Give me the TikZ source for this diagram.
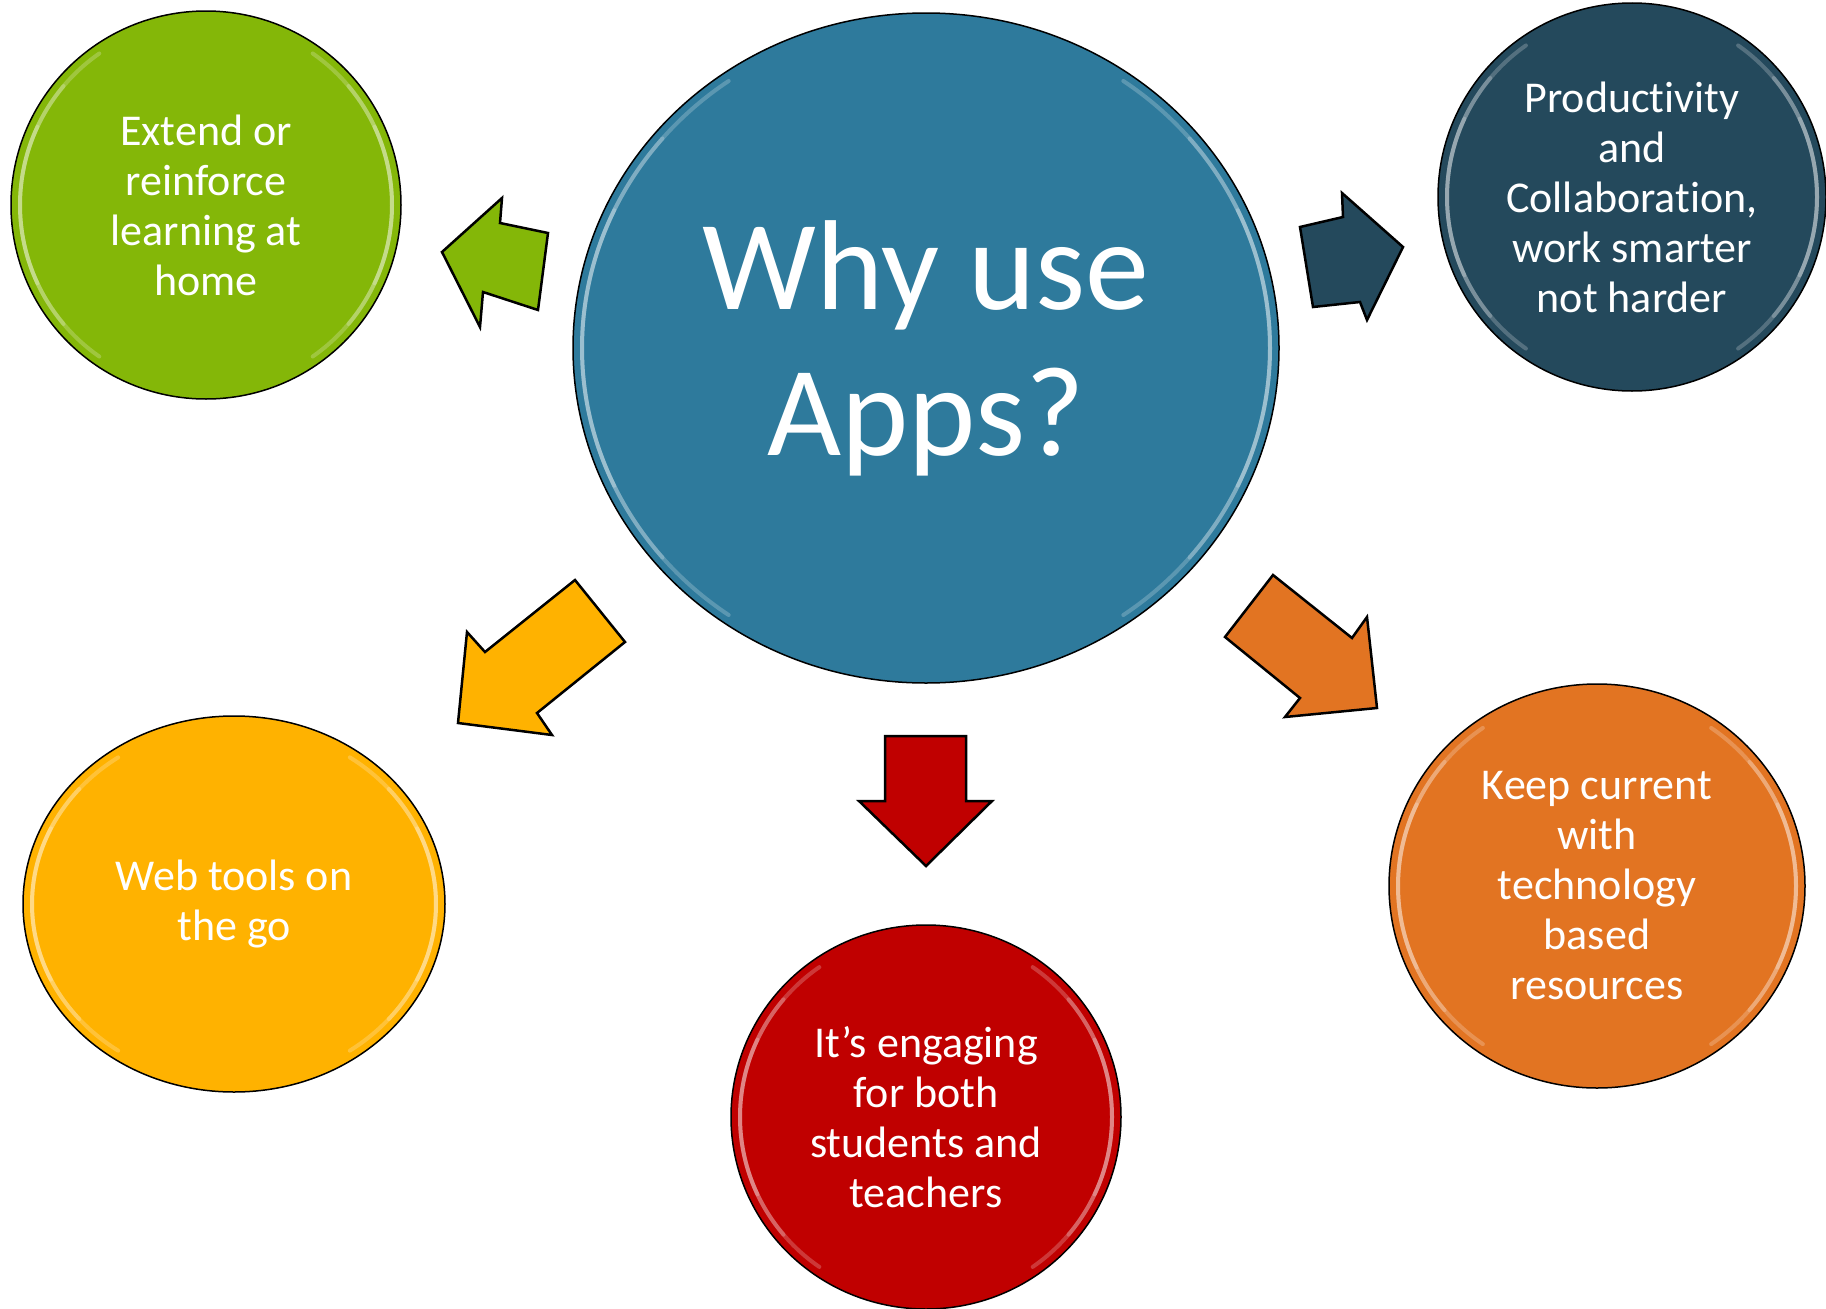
\documentclass[tikz,border=0pt]{standalone}
\usepackage{fontspec}
\setmainfont{Carlito}[Ligatures=NoCommon]
\usetikzlibrary{shapes.geometric}
\definecolor{cgreen}{RGB}{132,183,8}
\definecolor{cblue}{RGB}{46,122,156}
\definecolor{cnavy}{RGB}{36,73,92}
\definecolor{cyellow}{RGB}{255,178,0}
\definecolor{cred}{RGB}{192,0,0}
\definecolor{corange}{RGB}{226,116,34}
\tikzset{glow/.style={white,opacity=0.22,line width=4pt,line cap=round}}
\newcommand\myarcpair[4]{% node, rx, ry, half span
  \draw[glow] ([shift={({180-#4}:{#2-9} and {#3-9})}]#1.center)
    arc[start angle=180-#4,end angle=180+#4,x radius=#2-9,y radius=#3-9];
  \draw[glow] ([shift={(-#4:{#2-9} and {#3-9})}]#1.center)
    arc[start angle=-#4,end angle=#4,x radius=#2-9,y radius=#3-9];
}
\newcommand\mygloss[3]{%
  \myarcpair{#1}{#2}{#3}{55}
  \myarcpair{#1}{#2}{#3}{40}
  \myarcpair{#1}{#2}{#3}{25}
}
\begin{document}
\begin{tikzpicture}[x=1pt,y=-1pt,
  bubble/.style={ellipse,draw=black,line width=1.5pt,text=white,align=center,
    inner sep=0pt,font=\fontsize{44}{50}\selectfont},
  blockarrow/.style={draw=black,line width=2.5pt,line join=miter}]
\useasboundingbox (0,0) rectangle (1826,1309);
\node[bubble,fill=cblue,minimum width=706pt,minimum height=670pt,
  font=\fontsize{128}{146}\selectfont] (c) at (926,348) {Why use\\Apps?};
\node[bubble,fill=cgreen,minimum width=390pt,minimum height=388pt] (g) at (206,205)
  {Extend or\\reinforce\\learning at\\home};
\node[bubble,fill=cnavy,minimum width=388pt,minimum height=388pt] (n) at (1632,197)
  {Productivity\\and\\Collaboration,\\work smarter\\not harder};
\node[bubble,fill=cyellow,minimum width=422pt,minimum height=376pt] (y) at (234,904)
  {Web tools on\\the go};
\node[bubble,fill=cred,minimum width=390pt,minimum height=384pt] (r) at (926,1117)
  {It’s engaging\\for both\\students and\\teachers};
\node[bubble,fill=corange,minimum width=416pt,minimum height=404pt] (o) at (1597,886)
  {Keep current\\with\\technology\\based\\resources};
\mygloss{c}{353}{335}
\mygloss{g}{195}{194}
\mygloss{n}{194}{194}
\mygloss{y}{211}{188}
\mygloss{r}{195}{192}
\mygloss{o}{208}{202}
% block arrows
\filldraw[blockarrow,fill=cgreen] (442,252) -- (502,198) -- (500,223) -- (548,233)
  -- (538,310) -- (483,292) -- (480,327) -- cycle;
\filldraw[blockarrow,fill=cnavy] (1300,227) -- (1343,217) -- (1342,193) -- (1403,247)
  -- (1367,320) -- (1360,302) -- (1313,307) -- cycle;
\filldraw[blockarrow,fill=cyellow] (575,580) -- (625,642) -- (537,713) -- (552,735)
  -- (458,723) -- (467,632) -- (485,652) -- cycle;
\filldraw[blockarrow,fill=cred] (885,736) -- (966,736) -- (966,801) -- (992,801)
  -- (926,866) -- (859,801) -- (885,801) -- cycle;
\filldraw[blockarrow,fill=corange] (1273,575) -- (1352,638) -- (1367,617) -- (1377,708)
  -- (1285,717) -- (1300,698) -- (1225,637) -- cycle;
\end{tikzpicture}
\end{document}
